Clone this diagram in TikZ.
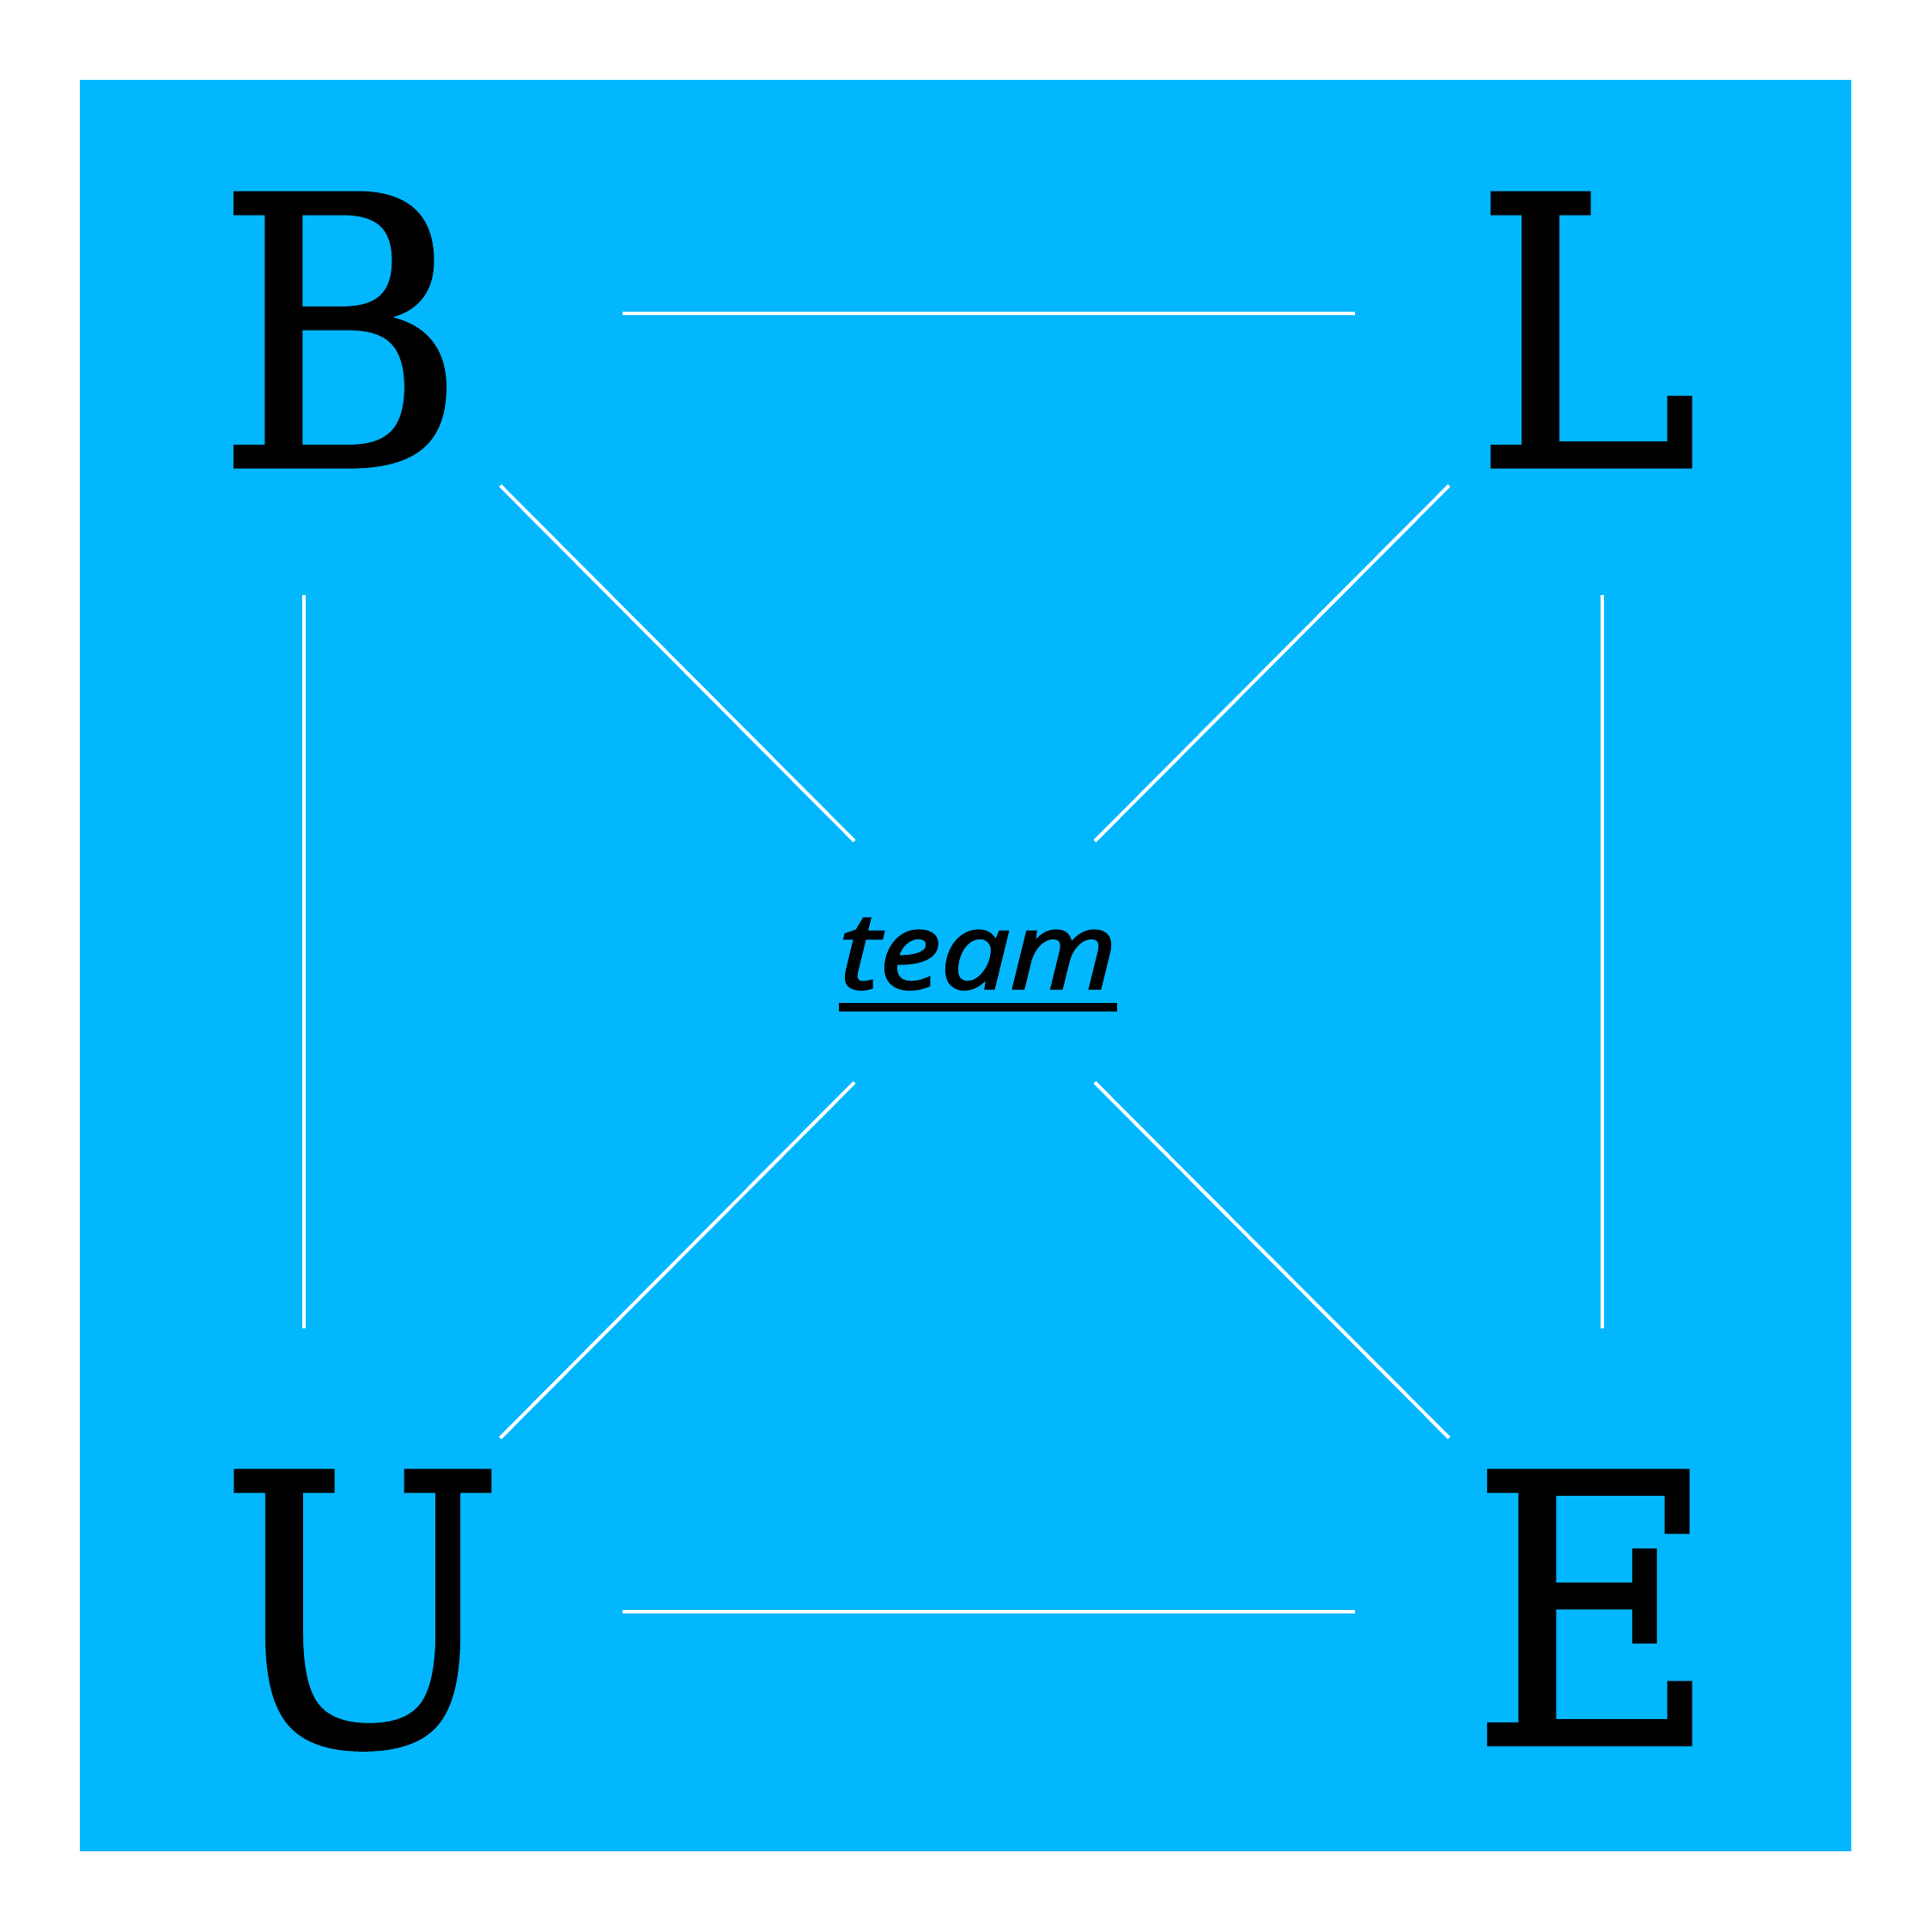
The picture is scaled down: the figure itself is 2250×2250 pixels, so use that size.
\documentclass[tikz,border=0pt]{standalone}
\usepackage{fontspec}
\usepackage{tikz}
\newfontfamily\slabfont[FakeBold=1.2]{DejaVu Serif Condensed}
\newfontfamily\teamfont[FakeBold=2.5,FakeStretch=1.16]{Open Sans}
\definecolor{skyblue}{rgb}{0.01,0.717,1}

\begin{document}
\begin{tikzpicture}[x=0.01cm,y=-0.01cm,
	letter/.style={font=\slabfont\fontsize{124}{124}\selectfont,inner sep=0pt,anchor=base},
	link/.style={color=white,line width=0.04cm}]
		\useasboundingbox (0,0) rectangle (2250,2250);
		\fill[color=skyblue] (93,93) rectangle (2156,2156);
		% corner letters
		\node[letter] (B) at (397,543) {B};
		\node[letter] (L) at (1847,543) {L};
		\node[letter] (U) at (422,2031) {U};
		\node[letter] (E) at (1856,2031) {E};
		\node[font=\teamfont\itshape\fontsize{35}{35}\selectfont,inner sep=0pt,anchor=base] (team) at (1139,1151) {team};
		\draw[line width=0.107cm] ([yshift=-0.22cm]team.base west) -- ([yshift=-0.22cm]team.base east);
		% frame
		\coordinate (nw) at (354.4,364.5);
		\coordinate (ne) at (1865.5,364.5);
		\coordinate (sw) at (354.4,1877);
		\coordinate (se) at (1865.5,1877);
		\coordinate (hub) at (1135,1120);
		\draw[link,shorten <=3.703cm,shorten >=2.87cm] (nw) -- (ne);
		\draw[link,shorten <=3.703cm,shorten >=2.87cm] (sw) -- (se);
		\draw[link,shorten <=3.285cm,shorten >=3.30cm] (nw) -- (sw);
		\draw[link,shorten <=3.285cm,shorten >=3.30cm] (ne) -- (se);
		% spokes
		\draw[link,shorten <=1.982cm] (hub) -- +(-552.4,-554.6);
		\draw[link,shorten <=1.982cm] (hub) -- +(552.6,-554.6);
		\draw[link,shorten <=1.982cm] (hub) -- +(-552.4,554.6);
		\draw[link,shorten <=1.982cm] (hub) -- +(552.6,554.6);
\end{tikzpicture}
\end{document}
